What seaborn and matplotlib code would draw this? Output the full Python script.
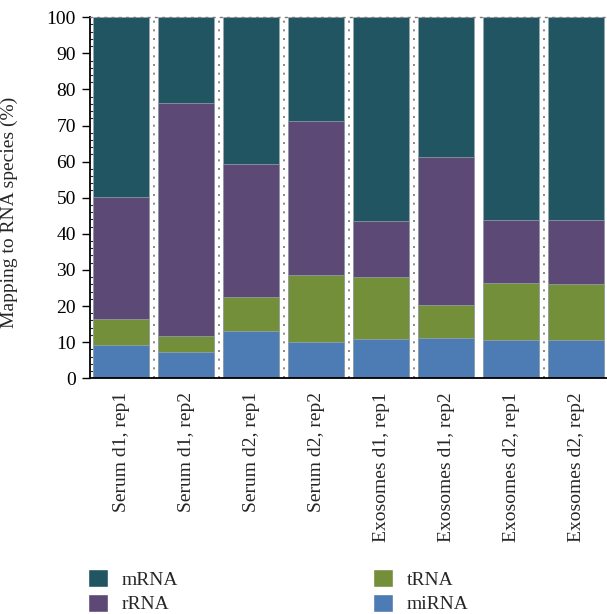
import matplotlib
matplotlib.use("Agg")
import matplotlib.pyplot as plt
from matplotlib.patches import Patch
from matplotlib.ticker import MultipleLocator
import numpy as np
import pandas as pd
import seaborn as sns

# --- datos (porcentaje de lecturas por especie) ---
samples = ["Serum d1, rep1", "Serum d1, rep2", "Serum d2, rep1", "Serum d2, rep2",
           "Exosomes d1, rep1", "Exosomes d1, rep2", "Exosomes d2, rep1", "Exosomes d2, rep2"]
mirna = [9.1, 7.4, 13.0, 9.9, 10.8, 11.1, 10.7, 10.7]
trna = [7.2, 4.3, 9.4, 18.8, 17.3, 9.1, 15.7, 15.4]
rrna = [33.9, 64.6, 37.0, 42.6, 15.5, 41.2, 17.5, 17.8]
mrna = [49.8, 23.7, 40.6, 28.7, 56.4, 38.6, 56.1, 56.1]

species = ["miRNA", "tRNA", "rRNA", "mRNA"]
colors = {"mRNA": "#225562", "rRNA": "#5c4976", "tRNA": "#748f3a", "miRNA": "#4d7bb4"}

df = pd.DataFrame({"sample": samples, "miRNA": mirna, "tRNA": trna,
                   "rRNA": rrna, "mRNA": mrna})
# acumulado para apilar: se dibuja de la capa mas alta a la mas baja
cum = df[species].cumsum(axis=1)
cum["sample"] = df["sample"]

sns.set_theme(style="ticks")
plt.rcParams["font.family"] = ["Liberation Serif", "DejaVu Serif"]
plt.rcParams["font.size"] = 14

fig = plt.figure(figsize=(6.07, 6.14), dpi=100)
ax = fig.add_axes([0.148, 0.384, 0.852, 0.588])

for sp in reversed(species):
    sns.barplot(data=cum, x="sample", y=sp, color=colors[sp], width=0.86,
                edgecolor="#9aa8ae", linewidth=0.5, saturation=1, ax=ax)

# lineas punteadas entre muestras
for xg in [0.5, 1.5, 2.5, 3.5, 4.5, 6.5]:
    ax.axvline(xg, color="#777777", lw=1.2, ls=(0, (1.2, 4.0)), zorder=0)

ax.set_xlim(-0.485, 7.47)
ax.set_ylim(0, 100)
ax.yaxis.set_major_locator(MultipleLocator(10))
ax.yaxis.set_minor_locator(MultipleLocator(2))
ax.tick_params(axis="y", which="major", direction="out", length=6, width=1,
               labelsize=14, pad=4, colors="black")
ax.tick_params(axis="y", which="minor", direction="in", length=3, width=0.8)
ax.tick_params(axis="x", length=0, labelsize=14, pad=10)
plt.setp(ax.get_xticklabels(), rotation=90)

ax.set_xlabel("")
ax.set_ylabel("Mapping to RNA species (%)", fontsize=14)
ax.yaxis.set_label_coords(-0.139, 0.46)

for s in ["left", "bottom"]:
    ax.spines[s].set_color("black")
    ax.spines[s].set_linewidth(1.3)
ax.spines["right"].set_visible(False)
ax.spines["top"].set_visible(True)
ax.spines["top"].set_color("#777777")
ax.spines["top"].set_linestyle((0, (1.2, 4.0)))
ax.spines["top"].set_linewidth(1.0)

handles = [Patch(facecolor=colors[s], label=s) for s in ["mRNA", "rRNA", "tRNA", "miRNA"]]
fig.legend(handles=handles, loc="upper left", bbox_to_anchor=(0.145, 0.073),
           ncol=2, frameon=False, fontsize=14, borderpad=0, borderaxespad=0,
           handlelength=1.05, handleheight=1.05, handletextpad=0.7,
           labelspacing=0.25, columnspacing=10.0)

fig.savefig("out.png", dpi=100)
plt.close(fig)
